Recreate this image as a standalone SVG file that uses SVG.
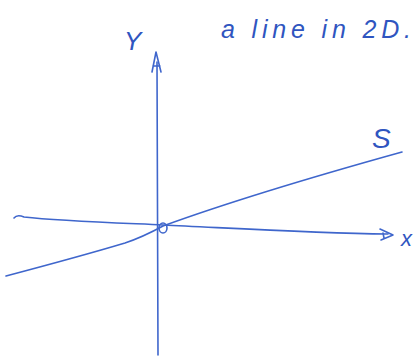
<svg xmlns="http://www.w3.org/2000/svg" width="419" height="360" viewBox="0 0 419 360">
<style>
.ln{fill:none;stroke:#3f66cc;stroke-width:1.6;stroke-linecap:round;stroke-linejoin:round}
.tx{font-family:"Liberation Sans",Arial,sans-serif;fill:#2f55c0;font-style:italic}
</style>
<rect width="419" height="360" fill="#fff"/>
<g id="connectors">
<path class="ln" d="M158,355 C158,280 157,180 157,62"/>
<path class="ln" d="M152,72 L156,52 L161,72 M153,66 L160,66"/>
<path class="ln" d="M14,218 Q17,214 24,217 C60,221 120,223 163,225 C230,228 310,233 388,234"/>
<path class="ln" d="M380,229 L393,235 L381,240 M383,233 L384,238"/>
<path class="ln" d="M6,276 C40,267 95,252 125,243 C140,238 152,232 163,226 C240,198 330,172 402,152"/>
<ellipse class="ln" cx="163" cy="228" rx="4" ry="5"/>
</g>
<g id="labels">
<text class="tx" x="124" y="50" font-size="26">Y</text>
<text class="tx" x="221" y="38" font-size="25" textLength="190" lengthAdjust="spacing">a line in 2D.</text>
<text class="tx" x="372" y="148" font-size="28">S</text>
<text class="tx" x="401" y="246" font-size="22">x</text>
</g>
</svg>
